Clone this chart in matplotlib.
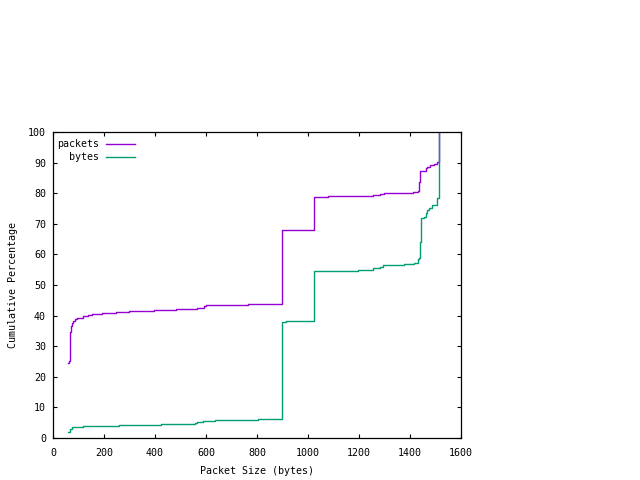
import matplotlib
matplotlib.use("Agg")
import matplotlib.pyplot as plt

# packet size (bytes) where each step starts, cumulative percentage after it
pkt_size = [58, 62, 65, 69, 71, 73, 80, 88, 96, 116, 139, 154, 192, 247, 299,
            396, 482, 565, 591, 599, 766, 899, 1024, 1078, 1255, 1281, 1297,
            1412, 1431, 1435, 1441, 1461, 1467, 1480, 1495, 1506, 1514]
pkt_pct = [24.4, 25.1, 34.5, 35.3, 36.6, 37.6, 38.2, 38.9, 39.2, 39.8, 40.1,
           40.4, 40.7, 41.1, 41.4, 41.7, 42.0, 42.6, 43.1, 43.4, 43.7, 67.9,
           78.7, 79.0, 79.3, 79.6, 80.0, 80.3, 80.6, 83.6, 87.2, 88.1, 88.6,
           89.1, 89.4, 90.1, 100.0]

byte_size = [58, 65, 76, 116, 257, 422, 555, 565, 590, 636, 805, 899, 915,
             1024, 1195, 1253, 1281, 1294, 1378, 1417, 1433, 1435, 1439, 1443,
             1456, 1461, 1467, 1474, 1485, 1493, 1506, 1514]
byte_pct = [2.1, 3.05, 3.5, 3.8, 4.1, 4.5, 4.8, 5.1, 5.45, 5.8, 6.1, 37.9,
            38.2, 54.5, 54.8, 55.4, 55.9, 56.5, 56.9, 57.2, 58.6, 58.9, 64.2,
            71.8, 72.1, 73.4, 74.4, 75.3, 76.0, 76.3, 78.3, 100.0]

xticks = list(range(0, 1601, 200))
yticks = list(range(0, 101, 10))

plt.rcParams["font.family"] = ["DejaVu Sans Mono"]
plt.rcParams["font.size"] = 7.2

fig = plt.figure(figsize=(6.4, 4.8), dpi=100)
ax = fig.add_axes([53 / 640, 42 / 480, 408 / 640, 306 / 480])

purple = "#9400d3"
green = "#009e73"
ax.plot(pkt_size, pkt_pct, drawstyle="steps-post", color=purple, lw=1.0)
ax.plot(byte_size, byte_pct, drawstyle="steps-post", color=green, lw=1.0)

ax.set_xlim(0, 1600)
ax.set_ylim(0, 100)
ax.set_xticks(xticks)
ax.set_yticks(yticks)
ax.tick_params(direction="in", length=3.2, width=0.8, top=True, right=True,
               colors="black")
ax.tick_params(axis="x", pad=7)
ax.tick_params(axis="y", pad=5)
for s in ax.spines.values():
    s.set_linewidth(0.9)

ax.set_xlabel("Packet Size (bytes)", labelpad=6)
ax.set_ylabel("Cumulative Percentage", labelpad=7)

# gnuplot-style key: right-aligned labels with the sample line after them
for i, (name, col) in enumerate([("packets", purple), ("bytes", green)]):
    yk = 0.962 - i * 0.043
    ax.text(0.112, yk, name, transform=ax.transAxes, ha="right", va="center")
    ax.plot([0.13, 0.2], [yk, yk], transform=ax.transAxes, color=col, lw=1.0)

fig.savefig("out.png", dpi=100)
